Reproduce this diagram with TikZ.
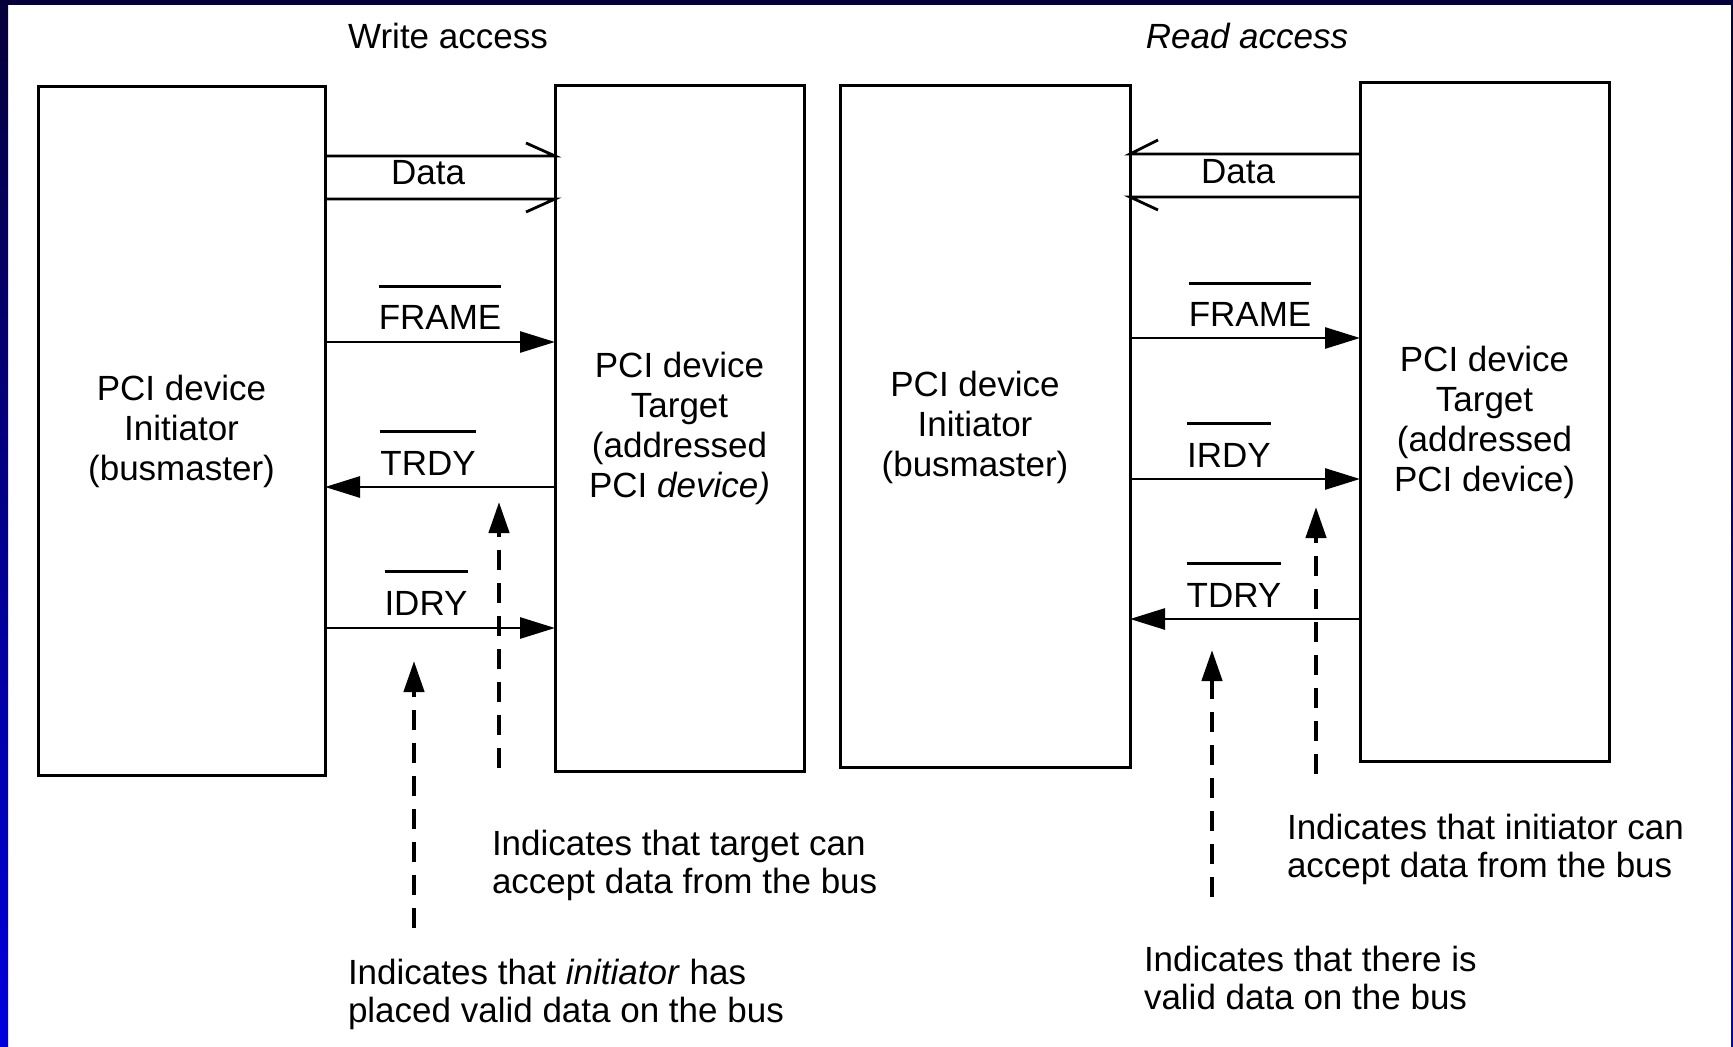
\documentclass[tikz,border=0pt]{standalone}
\usepackage{fontspec}
\setmainfont{Liberation Sans}
\usetikzlibrary{arrows.meta}
\definecolor{framenavy}{RGB}{6,0,58}
\definecolor{framebright}{RGB}{0,0,222}
% active-low signal name: text with a bar over it
\newcommand\lowsig[1]{\vbox{\hrule height 1.4pt\vskip 9pt\hbox{#1}}}
\begin{document}
\begin{tikzpicture}[x=0.5pt,y=-0.5pt,
  every node/.style={inner sep=0pt, outer sep=0pt},
  txt/.style={font=\fontsize{17.5}{20}\selectfont},
  box/.style={draw, line width=1.5pt, txt, align=center},
  siglabel/.style={txt, anchor=base},
  note/.style={font=\fontsize{17.5}{19}\selectfont, align=left, anchor=west},
  sig/.style={line width=1.4pt, -{Triangle[length=17.5pt,width=10.5pt]}},
  busline/.style={line width=1.4pt, line join=miter},
  dasharrow/.style={line width=2.2pt, dash pattern=on 10pt off 6.5pt,
    -{Triangle[length=15.5pt,width=10pt]}}]

% page and blue frame
\useasboundingbox (0,0) rectangle (1733,1047);
\fill[white] (0,0) rectangle (1733,1047);
\shade[top color=framenavy, bottom color=framebright] (0,0) rectangle (8,1047);
\shade[top color=framenavy, bottom color=framebright] (1731,0) rectangle (1733,1047);
\fill[framenavy] (0,0) rectangle (1733,5);

% titles
\node[txt] (wtitle) at (448,36) {Write access};
\node[txt] (rtitle) at (1247,36) {\itshape Read access};

% ---------------- write access ----------------
\node[box, minimum width=143.5pt, minimum height=344pt] (A) at (181.5,431)
  {PCI device\\Initiator\\(busmaster)};
\node[box, minimum width=124.5pt, minimum height=342.5pt] (B) at (679.5,428.5)
  {PCI device\\Target\\(addressed\\PCI \textit{device)}};

\draw[busline] (A.east |- 0,156) -- (B.west |- 0,156) -- ++(-29,-13);
\draw[busline] (A.east |- 0,199) -- (B.west |- 0,199) -- ++(-29,13);
\node[siglabel] (wdata) at (428,185) {Data};

\draw[sig] (A.east |- 0,342) -- (B.west |- 0,342);
\node[siglabel] (wframe) at (440,330) {\lowsig{FRAME}};

\draw[sig] (B.west |- 0,487) -- (A.east |- 0,487);
\node[siglabel] (wtrdy) at (428,475) {\lowsig{TRDY}};

\draw[sig] (A.east |- 0,628) -- (B.west |- 0,628);
\node[siglabel] (widry) at (426,615) {\lowsig{IDRY}};

\coordinate (wt0) at (499,768);
\coordinate (wt1) at (499,502);
\draw[dasharrow] (wt0) -- (wt1);
\coordinate (wi0) at (414,928);
\coordinate (wi1) at (414,661);
\draw[dasharrow] (wi0) -- (wi1);

\node[note] (wtnote) at (492,865)
  {Indicates that target can\\accept data from the bus};
\node[note] (winote) at (348,994)
  {Indicates that \textit{initiator} has\\placed valid data on the bus};

% ---------------- read access ----------------
\node[box, minimum width=145pt, minimum height=340.5pt] (C) at (985,426.5) {};
\node[txt, align=center] (Ct) at (975,427) {PCI device\\Initiator\\(busmaster)};
\node[box, minimum width=124.5pt, minimum height=339pt] (D) at (1484.5,422)
  {PCI device\\Target\\(addressed\\PCI device)};

\draw[busline] (D.west |- 0,154) -- (C.east |- 0,154) -- ++(28,-14);
\draw[busline] (D.west |- 0,197) -- (C.east |- 0,197) -- ++(28,13);
\node[siglabel] (rdata) at (1238,184) {Data};

\draw[sig] (C.east |- 0,338) -- (D.west |- 0,338);
\node[siglabel] (rframe) at (1250,327) {\lowsig{FRAME}};

\draw[sig] (C.east |- 0,479) -- (D.west |- 0,479);
\node[siglabel] (rirdy) at (1229,467) {\lowsig{IRDY}};

\draw[sig] (D.west |- 0,619) -- (C.east |- 0,619);
\node[siglabel] (rtdry) at (1234,607) {\lowsig{TDRY}};

\coordinate (ri0) at (1316,774);
\coordinate (ri1) at (1316,507);
\draw[dasharrow] (ri0) -- (ri1);
\coordinate (rv0) at (1212,897);
\coordinate (rv1) at (1212,650);
\draw[dasharrow] (rv0) -- (rv1);

\node[note] (rinote) at (1287,849)
  {Indicates that initiator can\\accept data from the bus};
\node[note] (rvnote) at (1144,978)
  {Indicates that there is\\valid data on the bus};
\end{tikzpicture}
\end{document}
